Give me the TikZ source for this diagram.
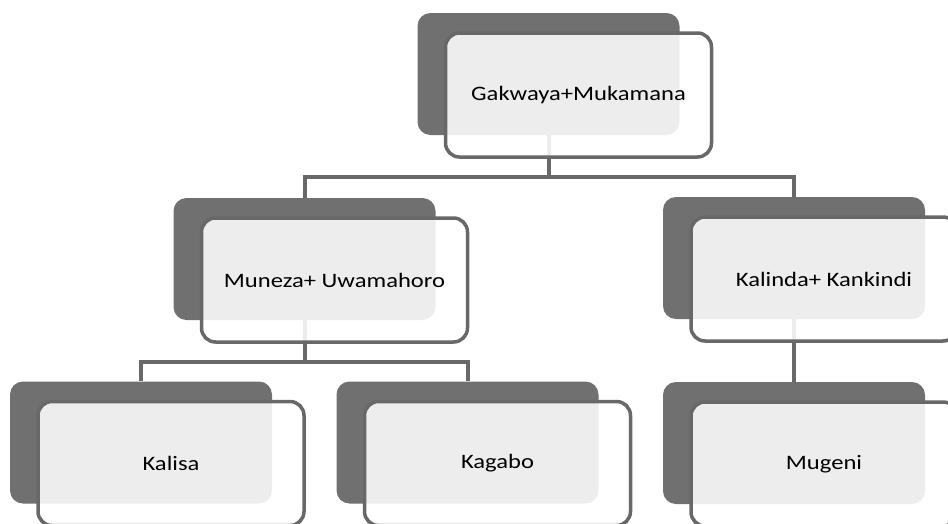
\documentclass[tikz,border=0pt]{standalone}
\usepackage{fontspec}
\setmainfont{Carlito}[FakeStretch=1.2]
\definecolor{boxgray}{HTML}{707070}
\definecolor{linegray}{HTML}{686868}

\begin{document}
\begin{tikzpicture}[x=1pt,y=-1pt]
		\tikzstyle{back}=[fill=boxgray,
			rounded corners=13pt,
			minimum width=262pt,
			minimum height=122pt,
			inner sep=0pt,
			];
		\tikzstyle{front}=[draw=linegray,
			line width=3.5pt,
			fill=white,
			fill opacity=.88,
			text opacity=1,
			rounded corners=14pt,
			minimum width=266pt,
			minimum height=124pt,
			font=\fontsize{20.5}{24}\selectfont,
			xshift=30pt,
			yshift=-21pt,
			];
		\tikzstyle{link}=[draw=linegray,
			line width=4pt,
			];

		\useasboundingbox (0,0) rectangle (948,523);

		\node [back] (gm) at (548.5,74) {};
		\node [back] (mu) at (304.5,259) {};
		\node [back] (kk) at (794,258) {};
		\node [back] (ks) at (141,442.5) {};
		\node [back] (kg) at (467.5,442.5) {};
		\node [back] (mg) at (794,443) {};

		\coordinate (bus1) at (548.5,177);
		\draw [link] (gm.south) -- (bus1) -| (mu.north);
		\draw [link] (bus1) -| (kk.north);
		\coordinate (bus2) at (304.5,362);
		\draw [link] (mu.south) -- (bus2) -| (ks.north);
		\draw [link] (bus2) -| (kg.north);
		\draw [link] (kk.south) -- (mg.north);

		\node [front] (gmf) at (gm.center) {Gakwaya+Mukamana};
		\node [front] (muf) at (mu.center) {Muneza+ Uwamahoro};
		\node [front] (kkf) at (kk.center) {Kalinda+ Kankindi};
		\node [front] (ksf) at (ks.center) {Kalisa};
		\node [front] (kgf) at (kg.center) {Kagabo};
		\node [front] (mgf) at (mg.center) {Mugeni};
	\end{tikzpicture}
\end{document}
